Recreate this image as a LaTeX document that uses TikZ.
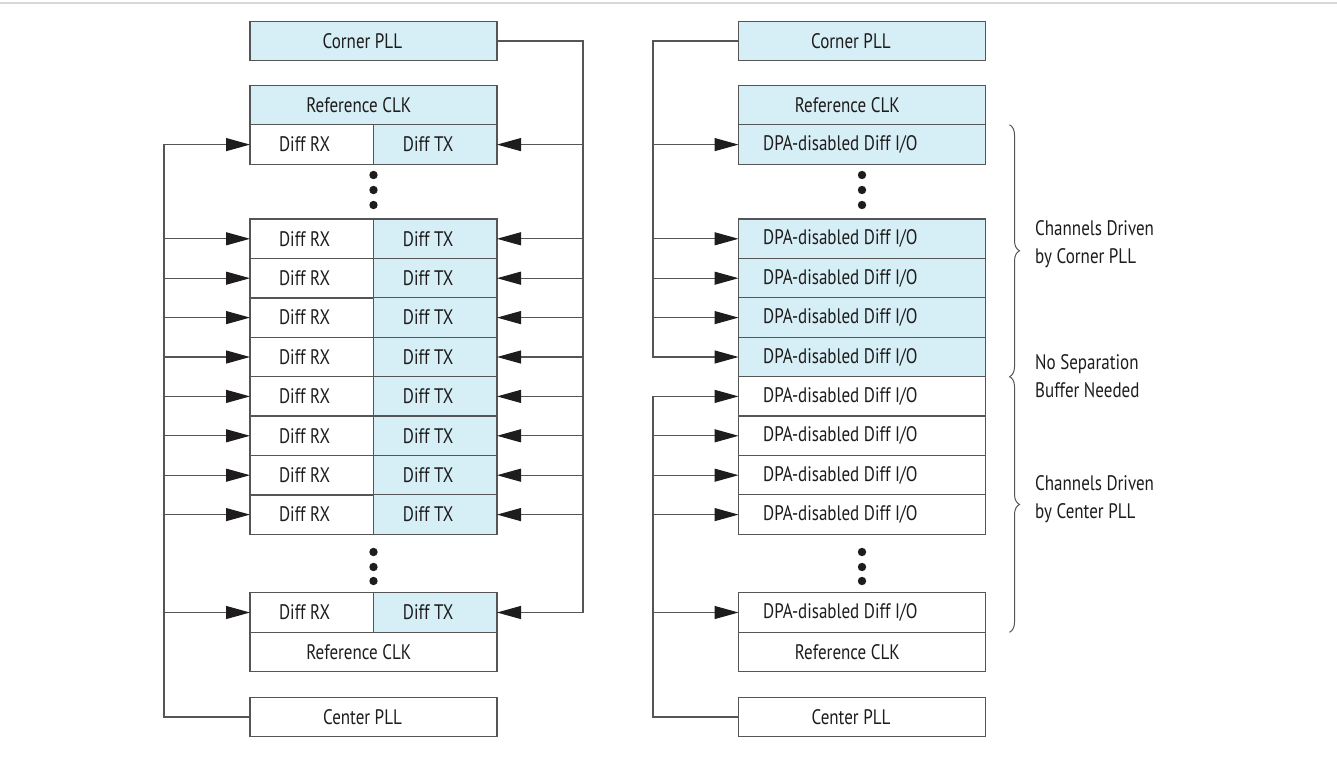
\documentclass[tikz,border=0pt]{standalone}
\usepackage{fontspec}
\setmainfont{PT Sans}[FakeStretch=0.81]
\usepackage{xcolor}
\usepackage{tikz}
\usetikzlibrary{arrows.meta,calc,decorations.pathreplacing,positioning}
\definecolor{cellblue}{RGB}{214,238,245}
\definecolor{wire}{RGB}{85,85,85}
\definecolor{rulegray}{RGB}{217,217,217}
\definecolor{ink}{RGB}{30,28,28}
\newcommand{\lbl}[1]{\makebox[1.28\width][l]{#1}}

\begin{document}
\begin{tikzpicture}[
  x=1pt, y=-1pt,
  font=\fontsize{21}{26}\selectfont, text=ink,
  cell/.style={draw=wire, line width=1.1pt, minimum height=39.6pt, inner sep=0pt, outer sep=0pt},
  wide/.style={cell, minimum width=247pt},
  half/.style={cell, minimum width=123.5pt},
  arr/.style={-{Triangle[length=24pt, width=13pt, color=ink]}, draw=wire, line width=1.1pt},
  brace/.style={decorate, decoration={brace, amplitude=10pt}, draw=wire, line width=1pt},
  note/.style={anchor=west, align=left, inner sep=0pt, font=\fontsize{21}{28}\selectfont}
]
\useasboundingbox (0,0) rectangle (1337,759);
\draw[rulegray, line width=2pt] (0,3) -- (1337,3);

% left side: Diff RX / Diff TX pairs
\node[wide, fill=cellblue] (lcorner) at (373.5,41) {\lbl{Corner PLL}};
\node[wide, fill=cellblue] (lref) at (373.5,105) {\lbl{Reference CLK}};
\node[half, anchor=north west] (lrx0) at (lref.south west) {\lbl{Diff RX}};
\node[half, fill=cellblue, right=0pt of lrx0] (ltx0) {\lbl{Diff TX}};
\foreach \i in {1,...,8} {
  \node[half, anchor=north west] (lrx\i) at (250,{219+(\i-1)*39.4}) {\lbl{Diff RX}};
  \node[half, fill=cellblue, right=0pt of lrx\i] (ltx\i) {\lbl{Diff TX}};
}
\node[half, anchor=north west] (lrx9) at (250,592.7) {\lbl{Diff RX}};
\node[half, fill=cellblue, right=0pt of lrx9] (ltx9) {\lbl{Diff TX}};
\node[wide, anchor=north west] (lrefb) at (lrx9.south west) {\lbl{Reference CLK}};
\node[wide] (lcenter) at (373.5,717) {\lbl{Center PLL}};
\foreach \y in {175,190,205,552,567,581} \fill[ink] (373.5,\y) circle (4.2pt);

\coordinate (lwest) at (164,0);
\coordinate (least) at (583,0);
\draw[arr] (lcenter.west) -| (lwest |- lrx0.west) -- (lrx0.west);
\draw[arr] (lcorner.east) -| (least |- ltx9.east) -- (ltx9.east);
\foreach \i in {1,...,9} \draw[arr] (lwest |- lrx\i.west) -- (lrx\i.west);
\foreach \i in {0,...,8} \draw[arr] (least |- ltx\i.east) -- (ltx\i.east);

% right side: DPA-disabled channels
\node[wide, fill=cellblue] (rcorner) at (862,41) {\lbl{Corner PLL}};
\node[wide, fill=cellblue] (rref) at (862,105) {\lbl{Reference CLK}};
\node[wide, fill=cellblue, anchor=north] (rio0) at (rref.south) {\lbl{DPA-disabled Diff I/O}};
\foreach \i/\c in {1/cellblue,2/cellblue,3/cellblue,4/cellblue,5/white,6/white,7/white,8/white}
  \node[wide, fill=\c, anchor=north] (rio\i) at (862,{219+(\i-1)*39.4}) {\lbl{DPA-disabled Diff I/O}};
\node[wide, anchor=north] (rio9) at (862,592.7) {\lbl{DPA-disabled Diff I/O}};
\node[wide, anchor=north] (rrefb) at (rio9.south) {\lbl{Reference CLK}};
\node[wide] (rcenter) at (862,717) {\lbl{Center PLL}};
\foreach \y in {175,190,205,552,567,581} \fill[ink] (862,\y) circle (4.2pt);

\coordinate (rwest) at (653,0);
\draw[arr] (rcorner.west) -| (rwest |- rio4.west) -- (rio4.west);
\draw[arr] (rcenter.west) -| (rwest |- rio5.west) -- (rio5.west);
\foreach \i in {0,...,3} \draw[arr] (rwest |- rio\i.west) -- (rio\i.west);
\foreach \i in {6,...,9} \draw[arr] (rwest |- rio\i.west) -- (rio\i.west);

% braces and notes
\draw[brace] ($(rio0.north east)+(24,0)$) -- ($(rio4.south east)+(24,0)$);
\draw[brace] ($(rio5.north east)+(24,0)$) -- ($(rio9.south east)+(24,0)$);
\node[note] (ncorner) at (1035,244) {Channels Driven\\by Corner PLL};
\node[note] (nsep) at (1035,376) {No Separation\\Buffer Needed};
\node[note] (ncenter) at (1035,499) {Channels Driven\\by Center PLL};
\end{tikzpicture}
\end{document}
